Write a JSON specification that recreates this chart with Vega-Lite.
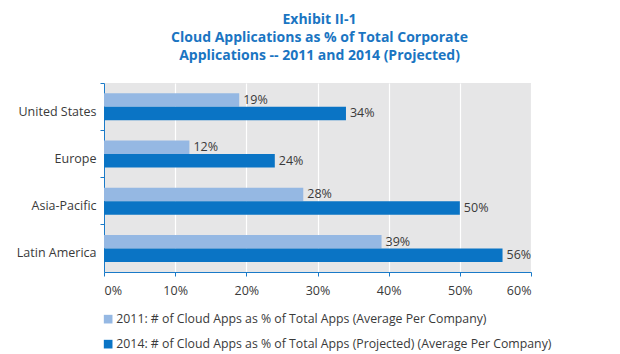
{
  "$schema": "https://vega.github.io/schema/vega-lite/v6.json",
  "width": 427,
  "height": 189,
  "autosize": "none",
  "padding": {"left": 104, "top": 83, "right": 89, "bottom": 82},
  "background": "white",
  "config": {
    "font": "Open Sans",
    "view": {"fill": "#e6e6e7", "stroke": null}
  },
  "title": {
    "text": ["Exhibit II-1", "Cloud Applications as % of Total Corporate", "Applications -- 2011 and 2014 (Projected)"],
    "anchor": "middle",
    "frame": "group",
    "dx": 2,
    "offset": 20,
    "fontSize": 14,
    "fontWeight": "bold",
    "lineHeight": 18,
    "color": "#1a75c2",
    "font": "Open Sans"
  },
  "data": {
    "values": [
      {"region": "United States", "series": "2011: #  of Cloud Apps as % of Total Apps (Average Per Company)", "value": 0.19},
      {"region": "United States", "series": "2014: # of Cloud Apps as % of Total Apps (Projected) (Average Per Company)", "value": 0.34},
      {"region": "Europe", "series": "2011: #  of Cloud Apps as % of Total Apps (Average Per Company)", "value": 0.12},
      {"region": "Europe", "series": "2014: # of Cloud Apps as % of Total Apps (Projected) (Average Per Company)", "value": 0.24},
      {"region": "Asia-Pacific", "series": "2011: #  of Cloud Apps as % of Total Apps (Average Per Company)", "value": 0.28},
      {"region": "Asia-Pacific", "series": "2014: # of Cloud Apps as % of Total Apps (Projected) (Average Per Company)", "value": 0.50},
      {"region": "Latin America", "series": "2011: #  of Cloud Apps as % of Total Apps (Average Per Company)", "value": 0.39},
      {"region": "Latin America", "series": "2014: # of Cloud Apps as % of Total Apps (Projected) (Average Per Company)", "value": 0.56}
    ]
  },
  "encoding": {
    "y": {
      "field": "region",
      "type": "nominal",
      "sort": ["United States", "Europe", "Asia-Pacific", "Latin America"],
      "scale": {"paddingInner": 0, "paddingOuter": 0},
      "axis": {
        "title": null,
        "bandPosition": 0,
        "labelOffset": 5,
        "labelPadding": 4,
        "labelFontSize": 12.5,
        "labelColor": "#3a3a3a",
        "domainColor": "#1a7ac8",
        "tickColor": "#1a7ac8",
        "tickSize": 4,
        "grid": false
      }
    },
    "yOffset": {
      "field": "series",
      "type": "nominal",
      "scale": {"paddingInner": 0, "paddingOuter": 0.75}
    },
    "x": {
      "field": "value",
      "type": "quantitative",
      "scale": {"domain": [0, 0.6], "nice": false},
      "axis": {
        "title": null,
        "values": [0, 0.1, 0.2, 0.3, 0.4, 0.5, 0.6],
        "format": ".0%",
        "labelFontSize": 12.5,
        "labelColor": "#3a3a3a",
        "labelPadding": 8,
        "domainColor": "#1a7ac8",
        "tickColor": "#1a7ac8",
        "tickSize": 4,
        "grid": true,
        "gridColor": "white",
        "gridWidth": 1.2
      }
    }
  },
  "layer": [
    {
      "mark": {"type": "bar"},
      "encoding": {
        "color": {
          "field": "series",
          "type": "nominal",
          "scale": {"range": ["#95b8e3", "#0a74c5"]},
          "legend": {
            "title": null,
            "orient": "none",
            "legendX": -2,
            "legendY": 230,
            "symbolType": "square",
            "symbolSize": 75,
            "symbolStrokeWidth": 0,
            "labelFontSize": 12.3,
            "labelColor": "#3a3a3a",
            "labelLimit": 0,
            "labelOffset": 2,
            "rowPadding": 12,
            "symbolOffset": 0
          }
        }
      }
    },
    {
      "mark": {"type": "text", "align": "left", "baseline": "middle", "dx": 4, "fontSize": 12.5, "color": "#3a3a3a"},
      "encoding": {
        "text": {"field": "value", "type": "quantitative", "format": ".0%"}
      }
    }
  ]
}
